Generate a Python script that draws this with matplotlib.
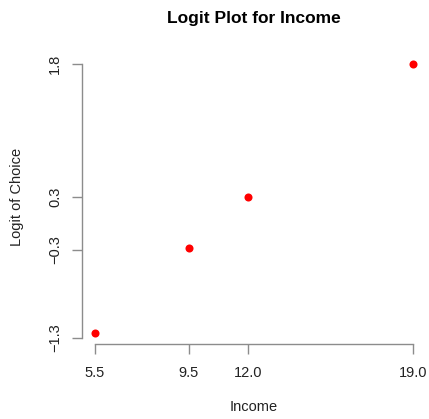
import numpy as np
import matplotlib.pyplot as plt

plt.rcParams['font.family'] = ['Liberation Sans', 'DejaVu Sans']

# income levels and the logit of the choice proportion at each level
income = [5.5, 9.5, 12.0, 19.0]
logit_choice = [-1.25, -0.28, 0.29, 1.80]

x_ticks = [5.5, 9.5, 12.0, 19.0]
x_tick_labels = ['5.5', '9.5', '12.0', '19.0']
y_ticks = [-1.3, -0.3, 0.3, 1.8]
y_tick_labels = ['\u22121.3', '\u22120.3', '0.3', '1.8']

fig = plt.figure(figsize=(4.29, 4.19), dpi=100)
ax = fig.add_axes([0.1907, 0.1788, 0.8016, 0.6935])

ax.plot(income, logit_choice, 'o', color='red', markersize=5.8, markeredgewidth=0)

# R-style padding of 4% on each side
xr = max(income) - min(income)
yr = max(logit_choice) - min(logit_choice)
ax.set_xlim(min(income) - 0.04 * xr, max(income) + 0.04 * xr)
ax.set_ylim(min(logit_choice) - 0.04 * yr, max(logit_choice) + 0.04 * yr)

axis_col = '#8c8c8c'
for side in ['top', 'right']:
    ax.spines[side].set_visible(False)
for side in ['left', 'bottom']:
    ax.spines[side].set_color(axis_col)
    ax.spines[side].set_linewidth(1.0)
ax.spines['left'].set_bounds(y_ticks[0], y_ticks[-1])
ax.spines['bottom'].set_bounds(x_ticks[0], x_ticks[-1])

ax.set_xticks(x_ticks)
ax.set_xticklabels(x_tick_labels)
ax.set_yticks(y_ticks)
ax.set_yticklabels(y_tick_labels, rotation=90, va='center')
ax.tick_params(axis='both', length=7, width=1.0, color=axis_col,
               labelsize=10.5, labelcolor='#222222')
ax.tick_params(axis='x', pad=9)
ax.tick_params(axis='y', pad=7)

fig.text(0.591, 0.957, 'Logit Plot for Income', ha='center', va='center',
         fontsize=12.5, fontweight='bold')
fig.text(0.591, 0.029, 'Income', ha='center', va='center', fontsize=10.5,
         color='#222222')
fig.text(0.040, 0.53, 'Logit of Choice', ha='center', va='center',
         rotation=90, fontsize=10.5, color='#222222')

fig.savefig('out.png', dpi=100)
